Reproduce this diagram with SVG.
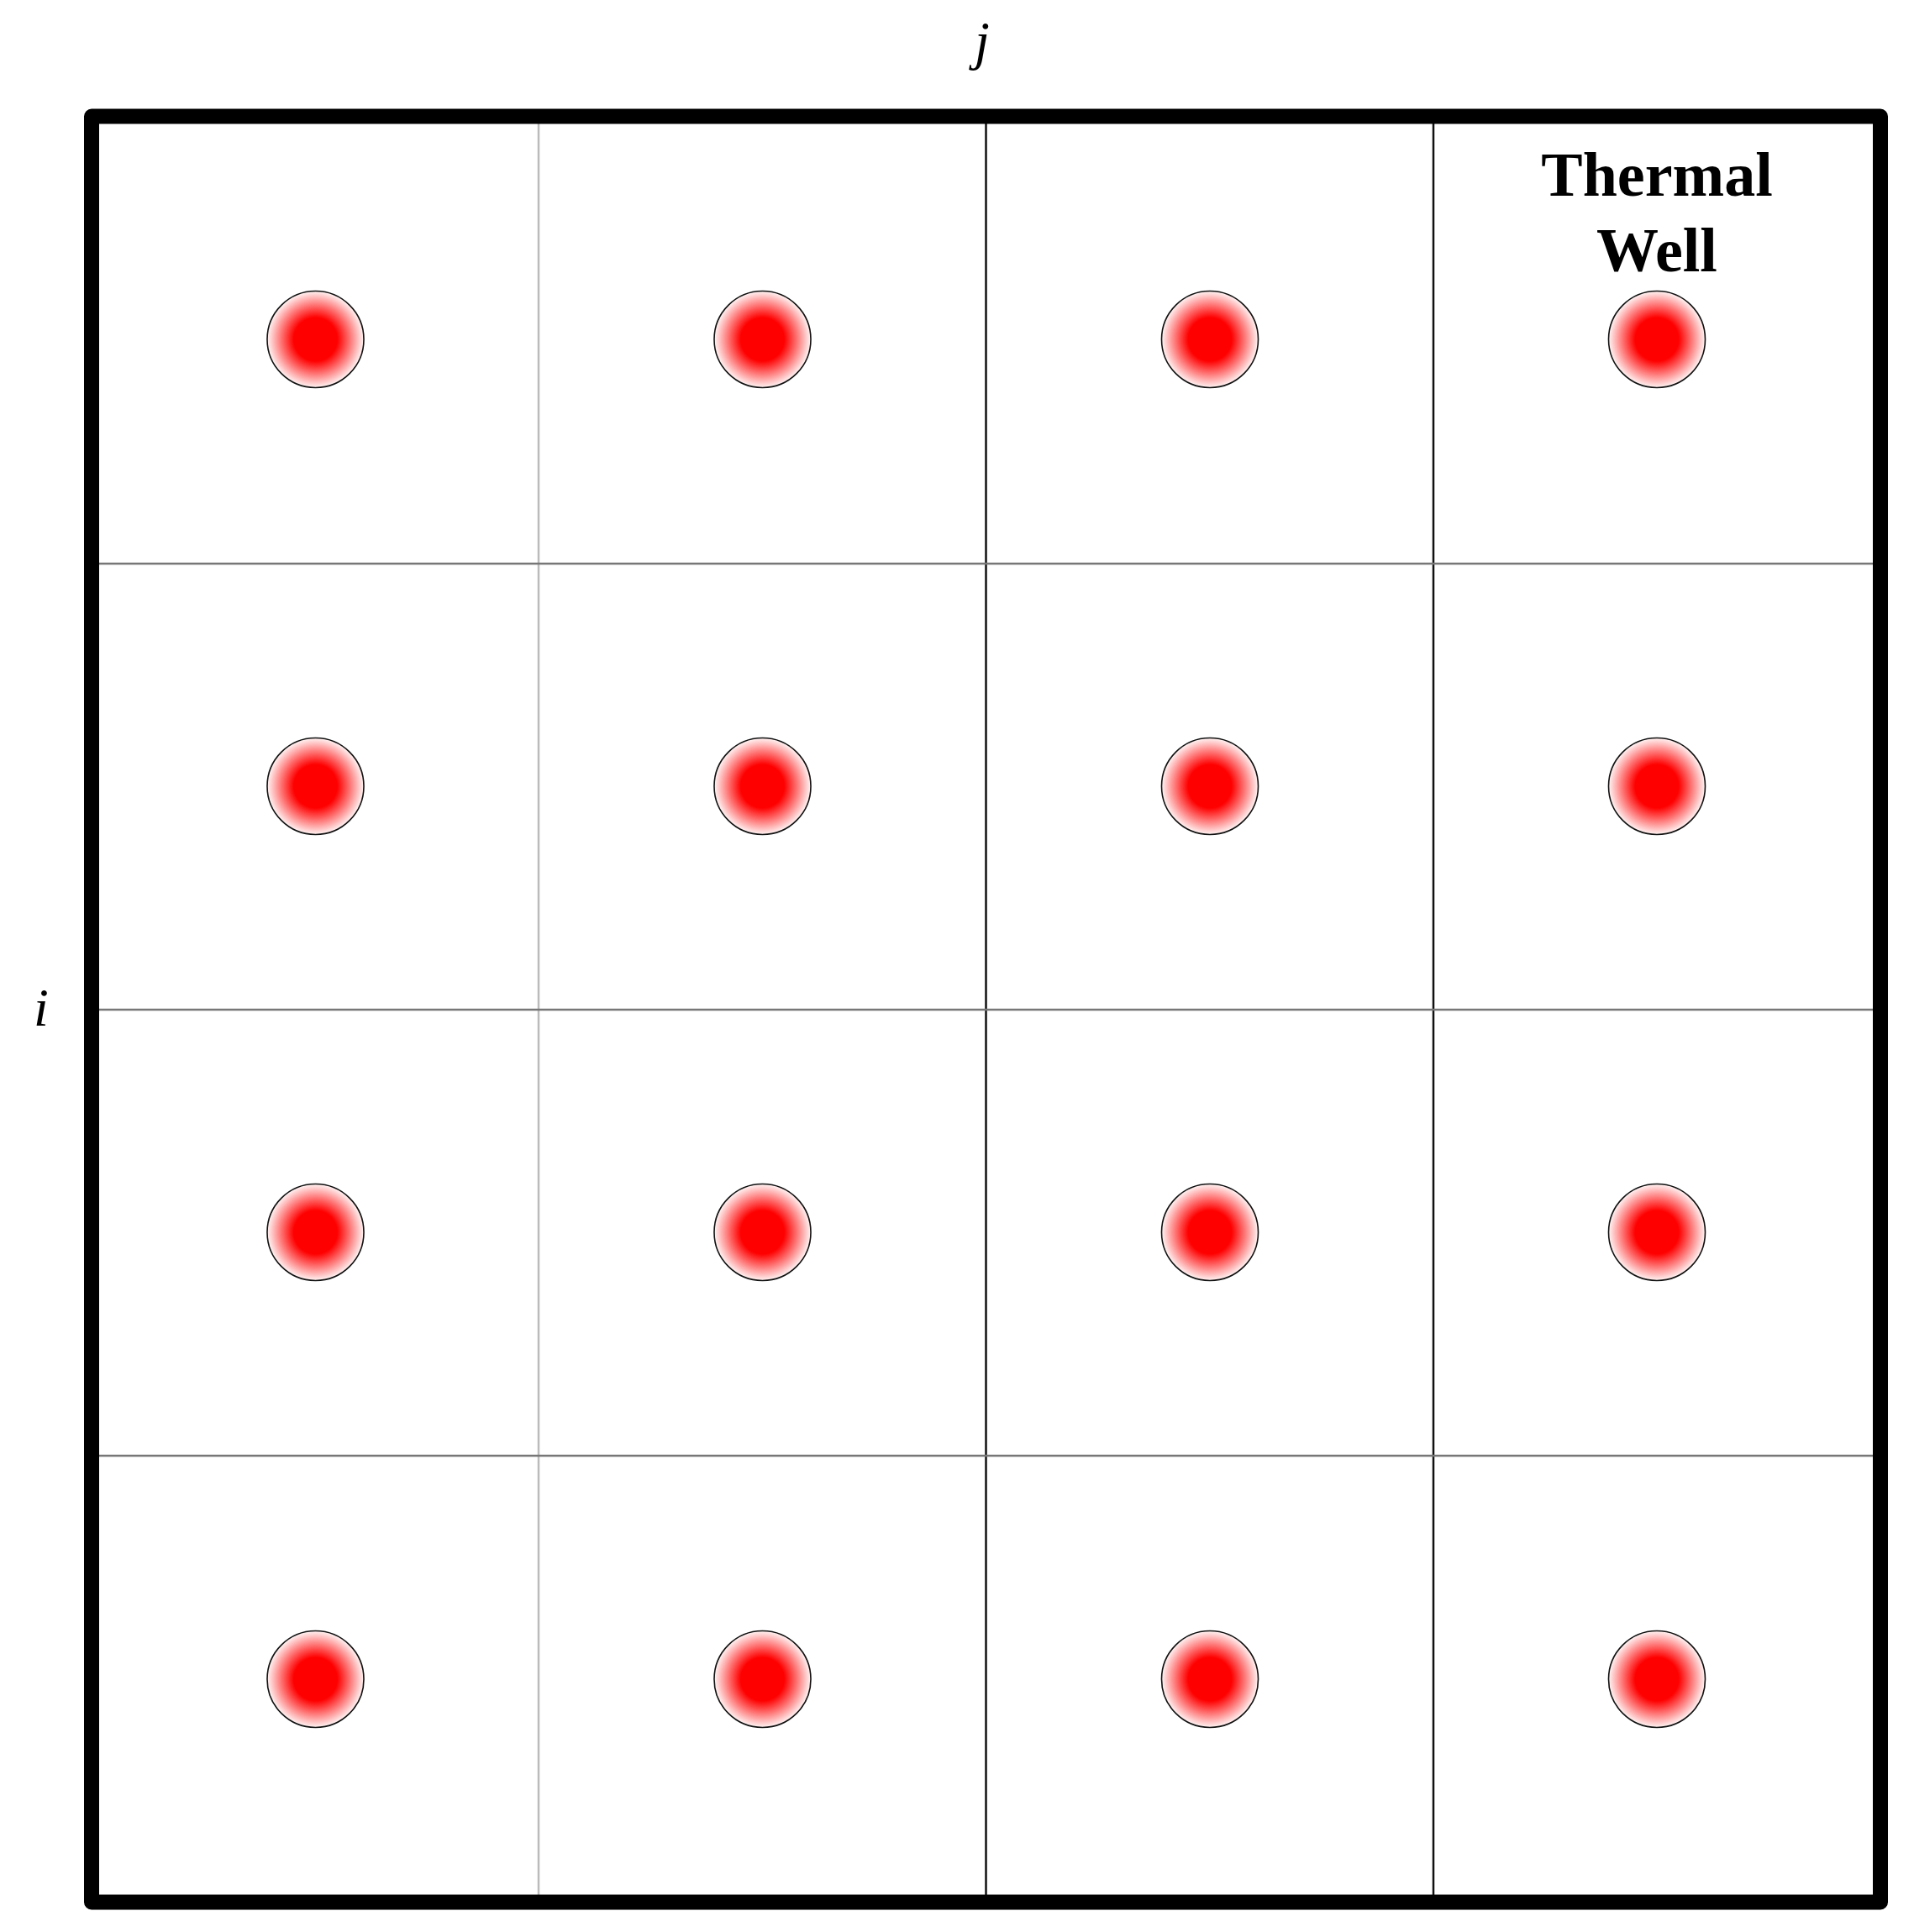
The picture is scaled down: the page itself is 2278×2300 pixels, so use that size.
<svg xmlns="http://www.w3.org/2000/svg" width="2278" height="2300" viewBox="0 0 2278 2300">
<defs>
<radialGradient id="well" cx="0.5" cy="0.5" r="0.5">
<stop offset="0" stop-color="#ff0000"/>
<stop offset="0.45" stop-color="#ff0000"/>
<stop offset="1" stop-color="#fff4f4"/>
</radialGradient>
<style>
.well{fill:url(#well);stroke:#111;stroke-width:1.6}
.lbl{font-family:"Liberation Serif",serif;font-style:italic;font-size:64px;fill:#000}
.title{font-family:"Liberation Serif",serif;font-weight:bold;font-size:74px;fill:#000;text-anchor:middle}
</style>
</defs>
<rect width="2278" height="2300" fill="#fff"/>
<g id="grid">
<line x1="641" y1="138" x2="641" y2="2265" stroke="#bbbbbb" stroke-width="2.5"/>
<line x1="1173.5" y1="138" x2="1173.5" y2="2265" stroke="#111" stroke-width="2.5"/>
<line x1="1706" y1="138" x2="1706" y2="2265" stroke="#111" stroke-width="2.5"/>
<line x1="109" y1="671" x2="2238" y2="671" stroke="#777" stroke-width="2.5"/>
<line x1="109" y1="1202" x2="2238" y2="1202" stroke="#777" stroke-width="2.5"/>
<line x1="109" y1="1733" x2="2238" y2="1733" stroke="#777" stroke-width="2.5"/>
</g>
<rect id="border" x="109" y="138.5" width="2129" height="2126" fill="none" stroke="#000" stroke-width="18" stroke-linejoin="round"/>
<g id="wells">
<circle class="well" cx="375.5" cy="404" r="57.5"/>
<circle class="well" cx="907.5" cy="404" r="57.5"/>
<circle class="well" cx="1440" cy="404" r="57.5"/>
<circle class="well" cx="1972" cy="404" r="57.5"/>
<circle class="well" cx="375.5" cy="936" r="57.5"/>
<circle class="well" cx="907.5" cy="936" r="57.5"/>
<circle class="well" cx="1440" cy="936" r="57.5"/>
<circle class="well" cx="1972" cy="936" r="57.5"/>
<circle class="well" cx="375.5" cy="1467" r="57.5"/>
<circle class="well" cx="907.5" cy="1467" r="57.5"/>
<circle class="well" cx="1440" cy="1467" r="57.5"/>
<circle class="well" cx="1972" cy="1467" r="57.5"/>
<circle class="well" cx="375.5" cy="1999" r="57.5"/>
<circle class="well" cx="907.5" cy="1999" r="57.5"/>
<circle class="well" cx="1440" cy="1999" r="57.5"/>
<circle class="well" cx="1972" cy="1999" r="57.5"/>
</g>
<g id="labels">
<text class="lbl" x="1160" y="70">j</text>
<text class="lbl" x="40" y="1221">i</text>
<text class="title" x="1972" y="233">Thermal</text>
<text class="title" x="1972" y="323">Well</text>
</g>
</svg>
